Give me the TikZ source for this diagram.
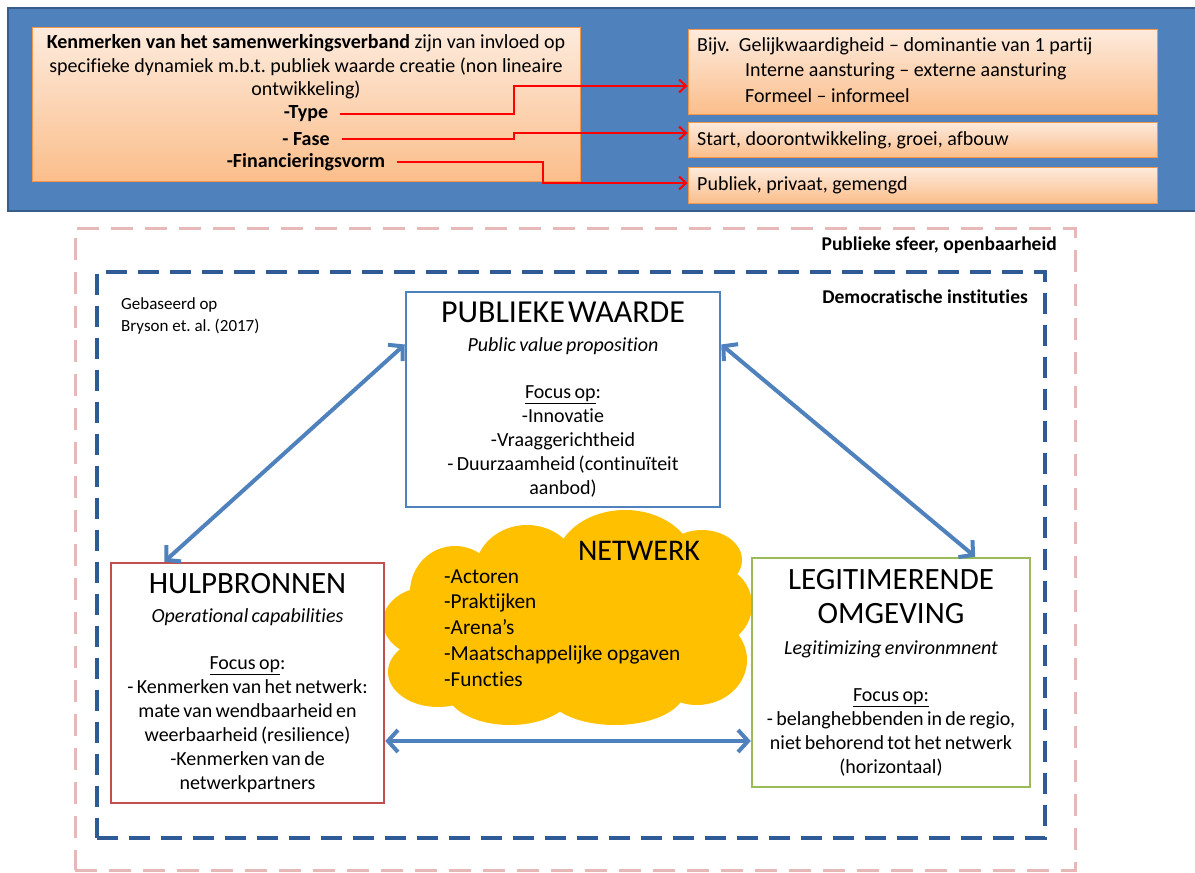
\documentclass[tikz,border=0pt]{standalone}
\usepackage{fontspec}
\setmainfont{Carlito}[Ligatures={NoCommon,NoContextual}]
\usetikzlibrary{arrows.meta,calc}
\frenchspacing
\definecolor{topblue}{HTML}{4F81BD}
\definecolor{topborder}{HTML}{385D8A}
\definecolor{orbord}{HTML}{F79646}
\definecolor{ortop}{HTML}{FDEBDD}
\definecolor{orbot}{HTML}{FBBE8B}
\definecolor{pinkd}{HTML}{E6B9B8}
\definecolor{navyd}{HTML}{2E5A96}
\definecolor{pwblue}{HTML}{4F81BD}
\definecolor{hred}{HTML}{C0504D}
\definecolor{lgreen}{HTML}{9BBB59}
\definecolor{cloudy}{HTML}{FFC000}
\newcommand{\bodyfont}{\fontsize{20}{23.5}\selectfont}
\tikzset{
  obox/.style={draw=orbord, line width=1pt, top color=ortop, bottom color=orbot, inner sep=0pt},
  lbl/.style={inner sep=0pt, font=\bodyfont},
  redarr/.style={draw=red, line width=2pt, -{Straight Barb[length=7pt,width=13pt]}},
  bluearr/.style={draw=pwblue, line width=4pt, {Straight Barb[length=10pt,width=22pt]}-{Straight Barb[length=10pt,width=22pt]}},
  mainbox/.style={fill=white, line width=2.5pt, inner sep=0pt, align=center},
  framelbl/.style={inner sep=0pt, anchor=east, font=\fontsize{19.5}{22}\selectfont\bfseries}
}
\begin{document}
\begin{tikzpicture}[x=1pt,y=-1pt]
\useasboundingbox (0,0) rectangle (1195,873);
% ---------- top panel ----------
\node[draw=topborder, fill=topblue, line width=2.5pt, minimum width=1192pt, minimum height=203pt, inner sep=0pt] (panel) at (604,109.5) {};
\node[obox, minimum width=548pt, minimum height=154pt] (kbox) at (306,104) {};
\node[lbl, align=center] (kt) at (306,67) {\textbf{Kenmerken van het samenwerkingsverband} zijn van invloed op\\ specifieke dynamiek m.b.t. publiek waarde creatie (non lineaire\\ ontwikkeling)};
\node[lbl] (type) at (306,114) {\textbf{-Type}};
\node[lbl] (fase) at (306,139) {\textbf{- Fase}};
\node[lbl] (fin) at (306,162) {\textbf{-Financieringsvorm}};
\node[obox, minimum width=469pt, minimum height=85pt] (b1) at (922.5,71.5) {};
\node[obox, minimum width=469pt, minimum height=35pt] (b2) at (922.5,139.5) {};
\node[obox, minimum width=469pt, minimum height=36pt] (b3) at (922.5,185) {};
\node[lbl, anchor=west, align=left, font=\fontsize{20}{25.5}\selectfont] (b1t) at (697,70) {Bijv.\ \ Gelijkwaardigheid -- dominantie van 1 partij\\\hspace*{48pt}Interne aansturing -- externe aansturing\\\hspace*{48pt}Formeel -- informeel};
\node[lbl, anchor=west] (b2t) at (697,140) {Start, doorontwikkeling, groei, afbouw};
\node[lbl, anchor=west] (b3t) at (697,185) {Publiek, privaat, gemengd};
\coordinate (xa) at (514,0);
\coordinate (xb) at (543,0);
\draw[redarr] ([xshift=12pt]type.east) -- (type.east -| xa) |- ([yshift=-14.5pt]b1.west);
\draw[redarr] ([xshift=12pt]fase.east) -- (fase.east -| xa) |- ([yshift=6.5pt]b2.west);
\draw[redarr] ([xshift=12pt]fin.east) -- (fin.east -| xb) |- ([yshift=2pt]b3.west);
% ---------- frames ----------
\node[draw=pinkd, line width=3pt, dash pattern=on 22pt off 12pt, minimum width=1000pt, minimum height=642pt, inner sep=0pt] (sphere) at (575,549) {};
\node[draw=navyd, line width=3.2pt, dash pattern=on 21pt off 11pt, minimum width=948pt, minimum height=566pt, inner sep=0pt] (demo) at (571,555) {};
\node[framelbl] (psl) at (1057,245) {Publieke sfeer, openbaarheid};
\node[framelbl] (dil) at (1028,297) {Democratische instituties};
\node[inner sep=0pt, anchor=west, align=left, font=\fontsize{17}{22}\selectfont] (geb) at (121,316) {Gebaseerd op\\Bryson et. al. (2017)};
% ---------- cloud ----------
\begin{scope}[cloudy]
\fill (625,565) ellipse [x radius=70pt, y radius=55pt];
\fill (527,572) ellipse [x radius=52pt, y radius=47pt];
\fill (455,592) ellipse [x radius=45pt, y radius=46pt];
\fill (428,622) ellipse [x radius=45pt, y radius=35pt];
\fill (438,672) ellipse [x radius=50pt, y radius=35pt];
\fill (510,688) ellipse [x radius=65pt, y radius=37pt];
\fill (615,690) ellipse [x radius=70pt, y radius=35pt];
\fill (697,660) ellipse [x radius=50pt, y radius=45pt];
\fill (712,605) ellipse [x radius=40pt, y radius=40pt];
\fill (702,560) ellipse [x radius=40pt, y radius=30pt];
\fill (567,620) ellipse [x radius=160pt, y radius=72pt];
\end{scope}
\node[inner sep=0pt, font=\fontsize{30}{30}\selectfont] (netw) at (639,551) {NETWERK};
\node[inner sep=0pt, anchor=west, align=left, font=\fontsize{21.3}{25.8}\selectfont] (items) at (444,628) {-Actoren\\-Praktijken\\-Arena’s\\-Maatschappelijke opgaven\\-Functies};
% ---------- main boxes ----------
\node[mainbox, draw=pwblue, minimum width=314pt, minimum height=215pt, text width=305pt] (pw) at (563,399.5) {%
{\fontsize{32}{31}\selectfont PUBLIEKE WAARDE\par}
{\fontsize{20}{29}\selectfont\itshape Public value proposition\par}
\vskip 23pt
{\fontsize{20}{24}\selectfont \underline{Focus op}:\\ -Innovatie\\ -Vraaggerichtheid\\ - Duurzaamheid (continuïteit\\ aanbod)\par}};
\node[mainbox, draw=hred, minimum width=273pt, minimum height=240pt, text width=265pt] (hulp) at (247.5,683) {%
{\fontsize{31}{31}\selectfont HULPBRONNEN\par}
{\fontsize{20}{29}\selectfont\itshape Operational capabilities\par}
\vskip 23pt
{\fontsize{20}{24}\selectfont \underline{Focus op}:\\ - Kenmerken van het netwerk:\\ mate van wendbaarheid en\\ weerbaarheid (resilience)\\ -Kenmerken van de\\ netwerkpartners\par}};
\node[mainbox, draw=lgreen, minimum width=278pt, minimum height=229pt, text width=270pt] (legit) at (891,672.5) {%
{\fontsize{31}{34}\selectfont LEGITIMERENDE\\ OMGEVING\par}
{\fontsize{20}{31}\selectfont\itshape Legitimizing environmnent\par}
\vskip 23pt
{\fontsize{20}{24}\selectfont \underline{Focus op:}\\ - belanghebbenden in de regio,\\ niet behorend tot het netwerk\\ (horizontaal)\par}};
% ---------- arrows ----------
\draw[bluearr] ($(pw.north west)!0.247!(pw.south west)$) -- ($(hulp.north west)!0.198!(hulp.north east)$);
\draw[bluearr] ($(pw.north east)!0.247!(pw.south east)$) -- ($(legit.north west)!0.80!(legit.north east)$);
\draw[bluearr] ([yshift=-58pt]hulp.east) -- ([yshift=-68.5pt]legit.west);
\end{tikzpicture}
\end{document}
